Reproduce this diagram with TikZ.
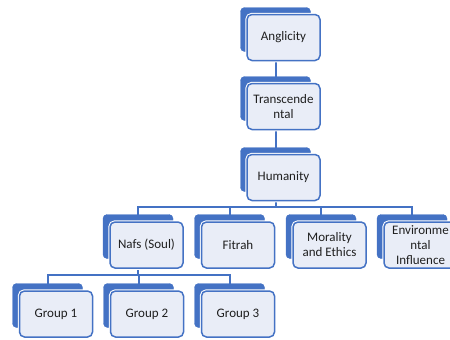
\documentclass[tikz,border=0pt]{standalone}
\usepackage{fontspec}
\setmainfont{Carlito}
\usetikzlibrary{backgrounds}
\definecolor{sblue}{RGB}{68,114,196}
\definecolor{sfill}{RGB}{233,237,247}
\tikzset{
 backbox/.style={fill=sblue, draw=sblue, rounded corners=4pt, minimum width=70pt, minimum height=44pt, inner sep=0pt},
 frontbox/.style={fill=sfill, draw=sblue, line width=1.5pt, rounded corners=5pt, minimum width=73pt, minimum height=46pt, inner sep=1pt, align=center, font=\fontsize{13}{15}\selectfont, text=black!88, preaction={draw=white, line width=3.5pt}},
 link/.style={draw=sblue, line width=2pt}
}
\begin{document}
\begin{tikzpicture}[x=1pt,y=-1pt]
\useasboundingbox (0,0) rectangle (450,340);
% level 1
\node[backbox] (aB) at (275.5,29.5) {};
\node[frontbox] (a) at (283.5,37.5) {Anglicity};
% level 2
\node[backbox] (tB) at (275.5,98.5) {};
\node[frontbox] (t) at (283.5,106.5) {Transcende\\ntal};
% level 3
\node[backbox] (hB) at (275.5,169.5) {};
\node[frontbox] (h) at (283.5,177.5) {Humanity};
% level 4
\node[backbox] (nB) at (138,236.5) {};
\node[frontbox] (n) at (146.5,245) {Nafs (Soul)};
\node[backbox] (fB) at (229.5,236.5) {};
\node[frontbox] (f) at (238,245) {Fitrah};
\node[backbox] (mB) at (321,236.5) {};
\node[frontbox] (m) at (329.5,245) {Morality\\and Ethics};
\node[backbox] (eB) at (412,236.5) {};
\node[frontbox] (e) at (420.5,245) {Environme\\ntal\\Influence};
% level 5
\node[backbox] (g1B) at (47.5,305.5) {};
\node[frontbox] (g1) at (56,314) {Group 1};
\node[backbox] (g2B) at (138.5,305.5) {};
\node[frontbox] (g2) at (147,314) {Group 2};
\node[backbox] (g3B) at (229.5,305.5) {};
\node[frontbox] (g3) at (238,314) {Group 3};
% connectors
\coordinate (bus1) at (275.5,207);
\coordinate (bus2) at (138,275);
\begin{scope}[on background layer]
\draw[link] (aB.center) -- (tB.center);
\draw[link] (tB.center) -- (hB.center);
\draw[link] (hB.center) -- (bus1);
\draw[link] (bus1) -| (nB.center);
\draw[link] (bus1) -| (fB.center);
\draw[link] (bus1) -| (mB.center);
\draw[link] (bus1) -| (eB.center);
\draw[link] (nB.center) -- (bus2);
\draw[link] (bus2) -| (g1B.center);
\draw[link] (bus2) -| (g2B.center);
\draw[link] (bus2) -| (g3B.center);
\end{scope}
\end{tikzpicture}
\end{document}
